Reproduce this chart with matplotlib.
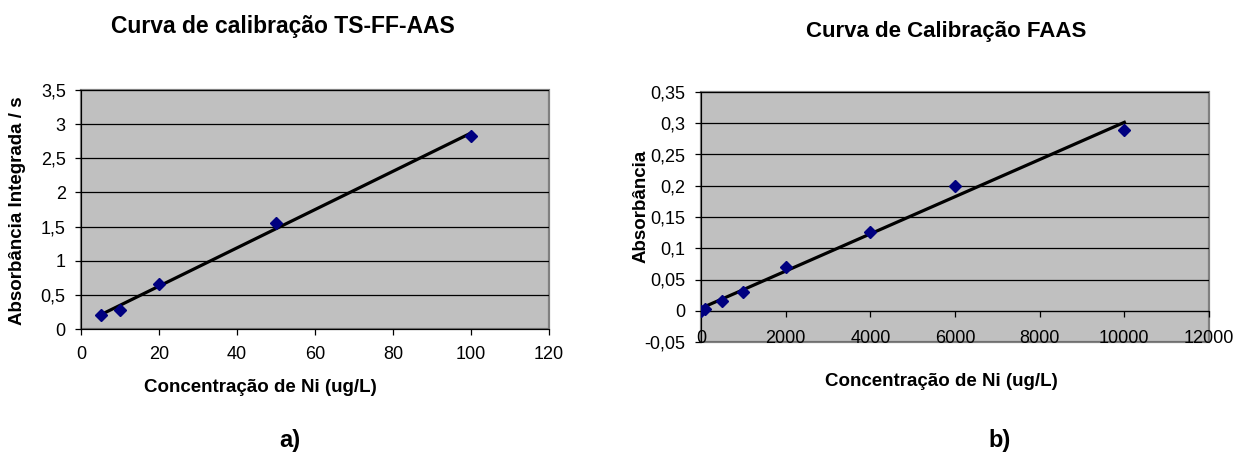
import matplotlib
matplotlib.use("Agg")
import matplotlib.pyplot as plt
import numpy as np
from matplotlib.patches import Rectangle

plt.rcParams['font.family'] = ['Liberation Sans', 'DejaVu Sans']

# curva a) TS-FF-AAS
conc_a = [5, 10, 20, 50, 100]
abs_a = [0.20, 0.28, 0.66, 1.55, 2.83]
# curva b) FAAS
conc_b = [0, 100, 500, 1000, 2000, 4000, 6000, 10000]
abs_b = [0.0, 0.003, 0.016, 0.030, 0.070, 0.126, 0.200, 0.289]

W, H = 1247, 470
BG = '#c0c0c0'
FRAME = '#808080'
NAVY = '#000080'


def px_axes(fig, x0, y0, x1, y1):
    return fig.add_axes([x0 / W, 1 - y1 / H, (x1 - x0) / W, (y1 - y0) / H])


def style(ax):
    ax.set_facecolor(BG)
    for s in ['top', 'right']:
        ax.spines[s].set_visible(False)
    ax.spines['left'].set_color('black')
    ax.spines['bottom'].set_color('black')
    ax.add_patch(Rectangle((0, 0), 1, 1, transform=ax.transAxes, fill=False,
                           ec=FRAME, lw=1.6, zorder=0.5, clip_on=False))
    ax.yaxis.grid(True, color='black', lw=0.9)
    ax.set_axisbelow(True)
    ax.tick_params(direction='out', length=4, width=0.9, labelsize=13, colors='black')
    ax.tick_params(axis='y', pad=7)
    ax.yaxis.set_major_formatter(plt.FuncFormatter(lambda v, p: ('%g' % round(v, 3)).replace('.', ',')))


def fit_line(ax, x, y, x0, x1):
    k, b = np.polyfit(x, y, 1)
    xx = np.array([x0, x1])
    ax.plot(xx, k * xx + b, color='black', lw=2.3, zorder=3)
    ax.plot(x, y, ls='none', marker='D', ms=6, color=NAVY, zorder=4)


fig = plt.figure(figsize=(W / 100, H / 100), dpi=100)

# a)
ax1 = px_axes(fig, 81, 90, 549, 329)
style(ax1)
fit_line(ax1, conc_a, abs_a, min(conc_a), max(conc_a))
ax1.set_xlim(0, 120)
ax1.set_ylim(0, 3.5)
ax1.set_xticks(np.arange(0, 121, 20))
ax1.set_yticks(np.arange(0, 3.51, 0.5))
ax1.tick_params(axis='x', pad=8)

# b)
ax2 = px_axes(fig, 701, 92, 1209, 342)
style(ax2)
ax2.spines['bottom'].set_position(('data', 0))
fit_line(ax2, conc_b, abs_b, min(conc_b), max(conc_b))
ax2.set_xlim(0, 12000)
ax2.set_ylim(-0.05, 0.35)
ax2.set_xticks(np.arange(0, 12001, 2000))
ax2.set_yticks(np.arange(-0.05, 0.351, 0.05))
ax2.tick_params(axis='x', pad=10)

# textos
fig.text(283 / W, 1 - 27 / H, 'Curva de calibração TS-FF-AAS', ha='center', va='center',
         fontsize=16.5, fontweight='bold')
fig.text(946 / W, 1 - 31 / H, 'Curva de Calibração FAAS', ha='center', va='center',
         fontsize=16, fontweight='bold')
fig.text(260 / W, 1 - 388 / H, 'Concentração de Ni (ug/L)', ha='center', va='center',
         fontsize=13.5, fontweight='bold')
fig.text(941 / W, 1 - 382 / H, 'Concentração de Ni (ug/L)', ha='center', va='center',
         fontsize=13.5, fontweight='bold')
fig.text(18 / W, 1 - 211 / H, 'Absorbância Integrada / s', ha='center', va='center',
         rotation=90, fontsize=13.5, fontweight='bold')
fig.text(641 / W, 1 - 206 / H, 'Absorbância', ha='center', va='center',
         rotation=90, fontsize=13.5, fontweight='bold')
fig.text(290 / W, 1 - 440 / H, 'a)', ha='center', va='center', fontsize=17, fontweight='bold')
fig.text(1000 / W, 1 - 440 / H, 'b)', ha='center', va='center', fontsize=17, fontweight='bold')

fig.savefig('out.png', dpi=100)
